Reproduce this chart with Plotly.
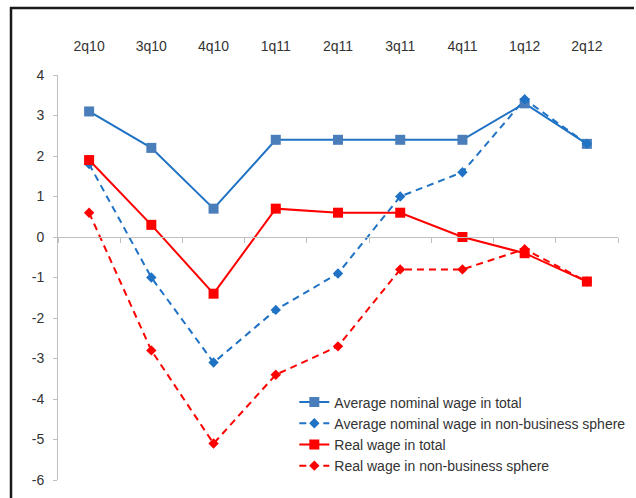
import plotly.graph_objects as go

quarters = ["2q10", "3q10", "4q10", "1q11", "2q11", "3q11", "4q11", "1q12", "2q12"]
nominal_total = [3.1, 2.2, 0.7, 2.4, 2.4, 2.4, 2.4, 3.3, 2.3]
nominal_nonbiz = [1.8, -1.0, -3.1, -1.8, -0.9, 1.0, 1.6, 3.4, 2.3]
real_total = [1.9, 0.3, -1.4, 0.7, 0.6, 0.6, 0.0, -0.4, -1.1]
real_nonbiz = [0.6, -2.8, -5.1, -3.4, -2.7, -0.8, -0.8, -0.3, -1.1]
names = [
    "Average nominal wage in total",
    "Average nominal wage in non-business sphere",
    "Real wage in total",
    "Real wage in non-business sphere",
]
y_ticks = [4, 3, 2, 1, 0, -1, -2, -3, -4, -5, -6]

FONT = "Liberation Sans Narrow, Arial Narrow, Liberation Sans, Arial, sans-serif"
BLUE = "#1F72C4"
BLUE_MK = "#4A7EBB"
RED = "#FF0000"

W, H = 636, 498
L, R, T, B = 58, 18, 75, 18
PW, PH = W - L - R, H - T - B


def px_x(v):
    return (v - L) / PW


def px_y(v):
    return (H - B - v) / PH


fig = go.Figure()
fig.add_trace(go.Scatter(x=quarters, y=nominal_total, name=names[0], mode="lines+markers",
                         line=dict(color=BLUE, width=2),
                         marker=dict(symbol="square", size=10, color=BLUE_MK)))
fig.add_trace(go.Scatter(x=quarters, y=nominal_nonbiz, name=names[1], mode="lines+markers",
                         line=dict(color=BLUE, width=2, dash="7px,5px"),
                         marker=dict(symbol="diamond", size=8, color=BLUE)))
fig.add_trace(go.Scatter(x=quarters, y=real_total, name=names[2], mode="lines+markers",
                         line=dict(color=RED, width=2),
                         marker=dict(symbol="square", size=10, color=RED)))
fig.add_trace(go.Scatter(x=quarters, y=real_nonbiz, name=names[3], mode="lines+markers",
                         line=dict(color=RED, width=2, dash="7px,5px"),
                         marker=dict(symbol="diamond", size=8, color=RED)))
# helper trace so the zero-crossing category axis is built
fig.add_trace(go.Scatter(x=quarters, y=[None] * len(quarters), xaxis="x2",
                         showlegend=False, hoverinfo="skip", mode="lines"))

frame = dict(color="#1a1a1a", width=2.5)
fig.update_layout(
    width=W, height=H,
    margin=dict(l=L, r=R, t=T, b=B, autoexpand=False),
    paper_bgcolor="white", plot_bgcolor="white",
    font=dict(family=FONT, size=14, color="#333333"),
    showlegend=True,
    legend=dict(x=0.422, y=0.231, xanchor="left", yanchor="top",
                bgcolor="rgba(0,0,0,0)", font=dict(size=14, color="#333333"),
                tracegroupgap=0, itemwidth=30),
    xaxis=dict(type="category", categoryorder="array", categoryarray=quarters,
               range=[-0.5, len(quarters) - 0.5], side="top",
               showline=False, showgrid=False, zeroline=False,
               ticks="", ticklabelstandoff=20, fixedrange=True),
    xaxis2=dict(type="category", categoryorder="array", categoryarray=quarters,
                range=[-0.5, len(quarters) - 0.5], overlaying="x", anchor="free",
                position=0.6, showline=True, linecolor="#BFBFBF", linewidth=1,
                ticks="outside", tickson="boundaries", ticklen=5, tickcolor="#BFBFBF",
                showticklabels=False, showgrid=False, zeroline=False),
    yaxis=dict(range=[-6, 4], tickvals=y_ticks, ticktext=[str(v) for v in y_ticks],
               showline=True, linecolor="#BFBFBF", linewidth=1,
               ticks="outside", ticklen=4, tickcolor="#BFBFBF",
               showgrid=False, zeroline=False, ticklabelstandoff=6),
    shapes=[
        dict(type="line", xref="paper", yref="paper",
             x0=px_x(10), x1=px_x(634), y0=px_y(8), y1=px_y(8), line=frame, layer="above"),
        dict(type="line", xref="paper", yref="paper",
             x0=px_x(11), x1=px_x(11), y0=px_y(7), y1=px_y(500), line=frame, layer="above"),
    ],
)

fig.write_html("out.html", config={"displayModeBar": False},
               post_script="document.body.style.margin='0';document.body.style.overflow='hidden';")
